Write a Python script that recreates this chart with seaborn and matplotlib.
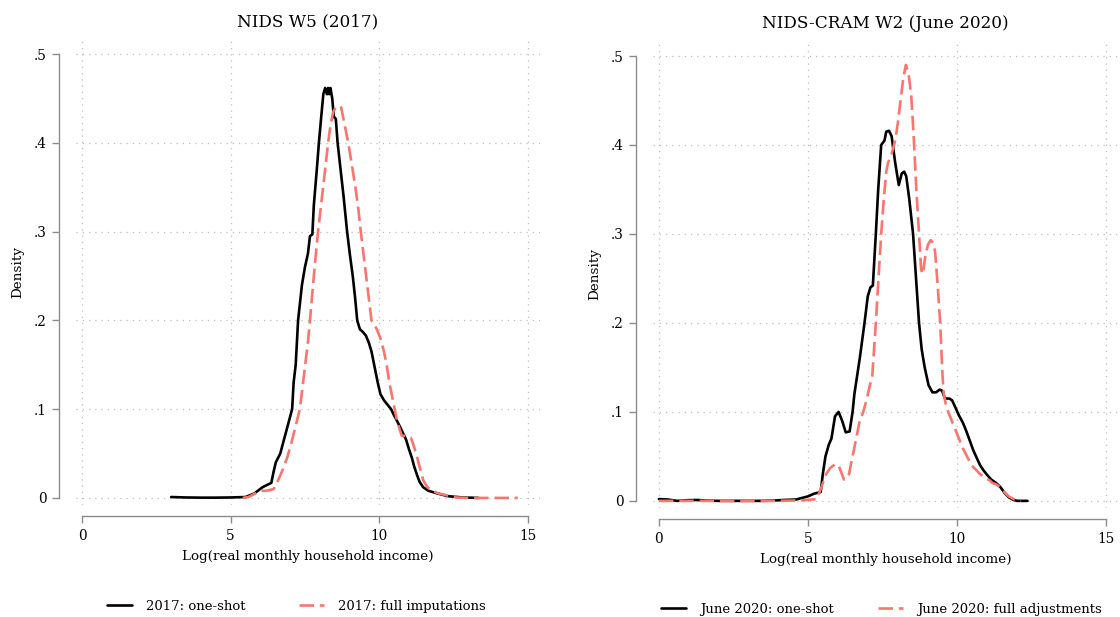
"""
Densités du log du revenu mensuel réel des ménages : NIDS W5 vs NIDS-CRAM W2.
"""

import numpy as np
import pandas as pd
import seaborn as sns
import matplotlib.pyplot as plt
from matplotlib.ticker import FuncFormatter

# --- NIDS W5 (2017) ---
w5_oneshot_x = [3.0, 3.5, 4.0, 4.5, 5.0, 5.5, 5.8, 6.07, 6.37, 6.45, 6.52, 6.67, 6.91, 7.07,
                7.12, 7.19, 7.27, 7.4, 7.5, 7.6, 7.67, 7.75, 7.8, 7.9, 7.97, 8.05, 8.12, 8.18,
                8.24, 8.28, 8.32, 8.36, 8.42, 8.47, 8.54, 8.6, 8.7, 8.8, 8.92, 9.01, 9.11, 9.19,
                9.26, 9.35, 9.45, 9.55, 9.65, 9.74, 9.86, 9.95, 10.04, 10.16, 10.28, 10.4, 10.5,
                10.58, 10.7, 10.8, 10.9, 11.0, 11.1, 11.18, 11.28, 11.36, 11.48, 11.66, 11.96,
                12.3, 12.8, 13.34]
w5_oneshot_y = [0.001, 0.0005, 0.0003, 0.0003, 0.0005, 0.001, 0.005, 0.012, 0.017, 0.03, 0.04,
                0.05, 0.08, 0.1, 0.13, 0.15, 0.2, 0.24, 0.26, 0.275, 0.295, 0.297, 0.33, 0.37,
                0.4, 0.43, 0.455, 0.462, 0.455, 0.462, 0.455, 0.462, 0.45, 0.43, 0.427, 0.4,
                0.37, 0.34, 0.3, 0.275, 0.25, 0.225, 0.2, 0.19, 0.187, 0.183, 0.175, 0.165,
                0.145, 0.13, 0.117, 0.11, 0.105, 0.1, 0.093, 0.088, 0.08, 0.073, 0.066, 0.055,
                0.045, 0.035, 0.025, 0.018, 0.012, 0.008, 0.005, 0.002, 0.0005, 0.0]

w5_full_x = [5.41, 5.6, 5.83, 6.0, 6.2, 6.45, 6.6, 6.73, 6.9, 7.03, 7.18, 7.33, 7.42, 7.51,
             7.6, 7.67, 7.8, 7.94, 8.06, 8.18, 8.28, 8.36, 8.45, 8.54, 8.63, 8.72, 8.84, 8.96,
             9.08, 9.2, 9.3, 9.38, 9.47, 9.56, 9.65, 9.74, 9.84, 9.92, 10.04, 10.16, 10.25,
             10.34, 10.46, 10.58, 10.68, 10.76, 10.9, 11.06, 11.15, 11.24, 11.36, 11.48,
             11.62, 11.78, 12.0, 12.26, 12.6, 13.0, 14.0, 14.66]
w5_full_y = [0.0, 0.001, 0.005, 0.008, 0.008, 0.01, 0.02, 0.03, 0.045, 0.06, 0.08, 0.1, 0.125,
             0.15, 0.175, 0.2, 0.25, 0.3, 0.335, 0.37, 0.4, 0.42, 0.435, 0.44, 0.442, 0.44,
             0.42, 0.4, 0.375, 0.35, 0.325, 0.3, 0.275, 0.25, 0.225, 0.2, 0.195, 0.19, 0.18,
             0.165, 0.15, 0.13, 0.11, 0.09, 0.078, 0.07, 0.07, 0.068, 0.06, 0.05, 0.035,
             0.02, 0.012, 0.008, 0.005, 0.003, 0.0005, 0.0, 0.0, 0.0]

# --- NIDS-CRAM W2 (June 2020) ---
cram_oneshot_x = [0.0, 0.3, 0.6, 1.0, 1.3, 1.6, 2.0, 2.5, 3.0, 3.5, 3.8, 4.2, 4.6, 5.0, 5.2,
                  5.43, 5.5, 5.59, 5.7, 5.79, 5.91, 6.03, 6.15, 6.27, 6.4, 6.5, 6.56, 6.65,
                  6.74, 6.82, 6.9, 7.01, 7.1, 7.18, 7.28, 7.36, 7.46, 7.57, 7.63, 7.72, 7.81,
                  7.93, 8.05, 8.15, 8.23, 8.3, 8.4, 8.53, 8.63, 8.73, 8.82, 8.92, 9.05, 9.18,
                  9.3, 9.42, 9.5, 9.6, 9.75, 9.84, 9.95, 10.07, 10.2, 10.31, 10.43, 10.55,
                  10.67, 10.78, 10.9, 11.02, 11.15, 11.32, 11.45, 11.6, 11.74, 11.9, 12.03,
                  12.37]
cram_oneshot_y = [0.002, 0.0015, 0.0, 0.0008, 0.001, 0.0003, 0.0, 0.0, 0.0, 0.0, 0.0003,
                  0.001, 0.0015, 0.005, 0.008, 0.01, 0.03, 0.05, 0.063, 0.07, 0.095, 0.1,
                  0.09, 0.077, 0.078, 0.1, 0.12, 0.14, 0.16, 0.18, 0.2, 0.23, 0.24, 0.242,
                  0.3, 0.35, 0.4, 0.405, 0.415, 0.416, 0.41, 0.38, 0.355, 0.368, 0.37, 0.365,
                  0.34, 0.3, 0.25, 0.2, 0.17, 0.15, 0.13, 0.122, 0.122, 0.125, 0.124, 0.115,
                  0.115, 0.113, 0.105, 0.096, 0.088, 0.079, 0.068, 0.057, 0.048, 0.04, 0.034,
                  0.029, 0.024, 0.02, 0.016, 0.009, 0.004, 0.001, 0.0, 0.0]

cram_full_x = [0.0, 1.0, 2.0, 3.0, 4.0, 4.8, 5.3, 5.45, 5.61, 5.75, 5.91, 6.03, 6.12, 6.21,
               6.3, 6.38, 6.47, 6.56, 6.65, 6.74, 6.86, 6.98, 7.08, 7.16, 7.22, 7.28, 7.37,
               7.46, 7.55, 7.63, 7.69, 7.81, 7.93, 8.02, 8.11, 8.2, 8.29, 8.38, 8.47, 8.55,
               8.64, 8.73, 8.8, 8.86, 8.94, 9.03, 9.12, 9.2, 9.27, 9.35, 9.44, 9.52, 9.56,
               9.65, 9.71, 9.83, 9.95, 10.07, 10.19, 10.34, 10.49, 10.64, 10.78, 10.95, 11.1,
               11.2, 11.35, 11.5, 11.62, 11.74, 11.9, 12.15]
cram_full_y = [0.0, 0.0, 0.0, 0.0, 0.0, 0.0005, 0.002, 0.015, 0.03, 0.037, 0.041, 0.04, 0.032,
               0.024, 0.025, 0.03, 0.045, 0.06, 0.075, 0.09, 0.1, 0.115, 0.13, 0.14, 0.17,
               0.2, 0.25, 0.3, 0.34, 0.37, 0.38, 0.39, 0.405, 0.425, 0.45, 0.475, 0.49, 0.48,
               0.455, 0.41, 0.35, 0.3, 0.26, 0.255, 0.275, 0.288, 0.293, 0.29, 0.28, 0.245,
               0.2, 0.14, 0.12, 0.105, 0.1, 0.09, 0.08, 0.07, 0.06, 0.05, 0.04, 0.035, 0.03,
               0.026, 0.023, 0.02, 0.018, 0.014, 0.009, 0.005, 0.002, 0.0]

x_ticks = [0, 5, 10, 15]
y_ticks = [0, 0.1, 0.2, 0.3, 0.4, 0.5]

BLACK = "#000000"
SALMON = "#F8766D"
GREY = "#8C8C8C"


def long_df(series):
    frames = [pd.DataFrame({"x": x, "density": y, "series": name}) for name, x, y in series]
    return pd.concat(frames, ignore_index=True)


def stata_density(ax, df, labels, title, legend_x, colspace):
    sns.lineplot(
        data=df, x="x", y="density", hue="series", style="series",
        palette={labels[0]: BLACK, labels[1]: SALMON},
        dashes={labels[0]: "", labels[1]: (5.5, 2.2)},
        estimator=None, linewidth=1.9, ax=ax,
    )

    ax.set_xlim(-0.2, 15.4)
    ax.set_ylim(-0.008, 0.517)
    ax.set_xticks(x_ticks)
    ax.set_yticks(y_ticks)
    ax.yaxis.set_major_formatter(FuncFormatter(lambda v, _: "0" if v == 0 else f"{v:.1f}".lstrip("0")))

    ax.grid(True, color="#BDBDBD", linestyle=(0, (1, 4)), linewidth=0.9)
    for s in ("top", "right"):
        ax.spines[s].set_visible(False)
    ax.spines["left"].set_position(("outward", 12))
    ax.spines["bottom"].set_position(("outward", 8))
    ax.spines["left"].set_bounds(0, 0.5)
    ax.spines["bottom"].set_bounds(0, 15)
    for s in ("left", "bottom"):
        ax.spines[s].set_color(GREY)
        ax.spines[s].set_linewidth(1.0)
    ax.tick_params(axis="both", bottom=True, left=True, direction="out", colors=GREY,
                   length=5, width=1.0, labelcolor="black", labelsize=9.8, pad=4)

    ax.set_title(title, fontsize=12.2, pad=9, color="black")
    ax.set_xlabel("Log(real monthly household income)", fontsize=9.7, labelpad=5, color="black")
    ax.set_ylabel("Density", fontsize=9.7, labelpad=7, color="black")

    sns.move_legend(ax, "center", bbox_to_anchor=(legend_x, -0.217), ncol=2, title=None,
                    frameon=False, fontsize=9.5, handlelength=1.9, columnspacing=colspace,
                    handletextpad=1.1, labelcolor="black")


sns.set_theme(style="white")
plt.rcParams["font.family"] = ["DejaVu Serif"]
plt.rcParams["text.color"] = "black"

fig = plt.figure(figsize=(11.2, 6.17), dpi=100)
ax1 = fig.add_axes([0.0679, 0.1815, 0.414, 0.755])
ax2 = fig.add_axes([0.583, 0.1767, 0.415, 0.757])

lab_w5 = ["2017: one-shot", "2017: full imputations"]
df_w5 = long_df([(lab_w5[0], w5_oneshot_x, w5_oneshot_y),
                 (lab_w5[1], w5_full_x, w5_full_y)])
stata_density(ax1, df_w5, lab_w5, "NIDS W5 (2017)", 0.475, 4.0)

lab_cram = ["June 2020: one-shot", "June 2020: full adjustments"]
df_cram = long_df([(lab_cram[0], cram_oneshot_x, cram_oneshot_y),
                   (lab_cram[1], cram_full_x, cram_full_y)])
stata_density(ax2, df_cram, lab_cram, "NIDS-CRAM W2 (June 2020)", 0.492, 3.3)

fig.savefig("out.png", dpi=100)
